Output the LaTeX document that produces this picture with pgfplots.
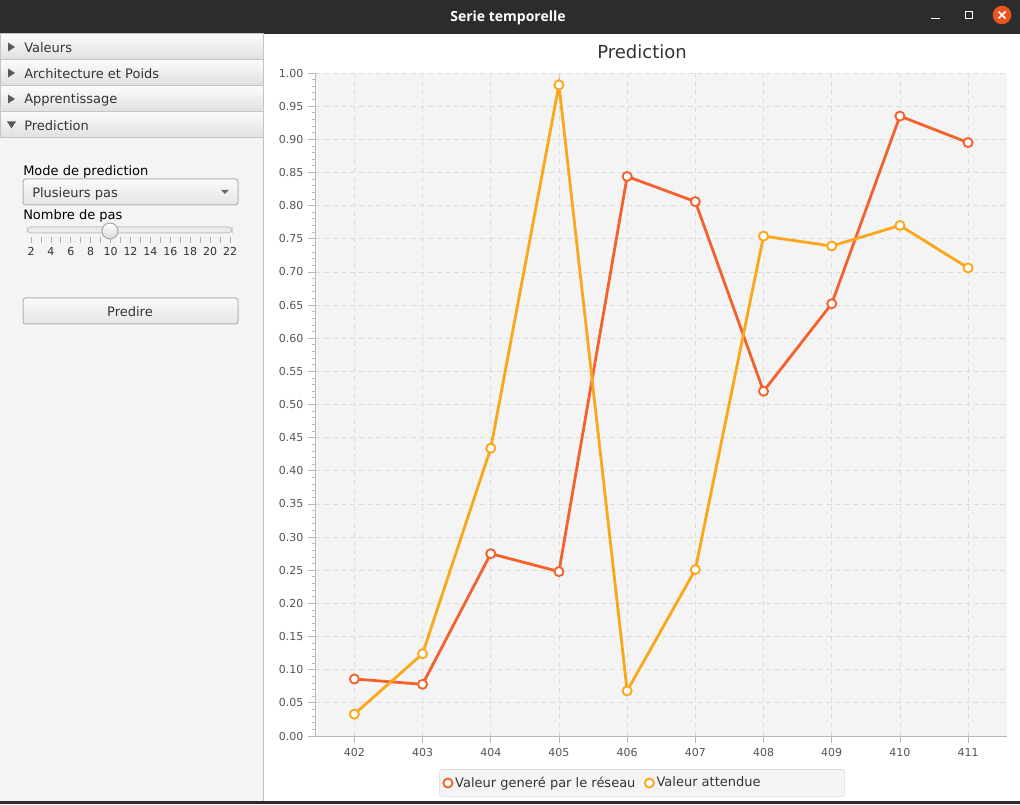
\documentclass[border=0pt]{standalone}
\usepackage{pgfplots}
\pgfplotsset{compat=1.18}
\usepackage{fontspec}
\setmainfont{DejaVu Sans}
\newfontfamily\wmfont{Open Sans}
\definecolor{serA}{HTML}{F3622D}
\definecolor{serB}{HTML}{FBA71B}
\definecolor{panelbg}{HTML}{F4F4F4}
\definecolor{plotbg}{HTML}{F4F4F4}
\definecolor{titlebar}{HTML}{2C2C2C}
\definecolor{gridgray}{HTML}{DCDCDC}
\definecolor{axisgray}{HTML}{B8B8B8}
\definecolor{labelgray}{HTML}{555555}
\definecolor{textdark}{HTML}{333333}
\definecolor{paneborder}{HTML}{C4C4C4}
\definecolor{closeorange}{HTML}{E95420}
\begin{document}
\begin{tikzpicture}[x=0.75pt,y=0.75pt]
\useasboundingbox (0,0) rectangle (1020,804);
% backgrounds
\fill[panelbg] (0,0) rectangle (1020,804);
\fill[white] (264,3) rectangle (1020,770);
\fill[titlebar] (0,770) rectangle (1020,804);
\fill[titlebar] (0,0) rectangle (1020,3);
\draw[paneborder, line width=0.75pt] (263.5,3) -- (263.5,770);
% window title
\node[text=white, font={\wmfont\bfseries\fontsize{10.5}{12}\selectfont}] at (508,786) {Serie temporelle};
\draw[white, line width=0.9pt] (931,785.5) -- (940,785.5);
\draw[white, line width=0.9pt] (965.5,785.5) rectangle (972.5,792.5);
\fill[closeorange] (1002,789) circle (9.3);
\draw[white, line width=1.1pt] (998.5,785.5) -- (1005.5,792.5) (998.5,792.5) -- (1005.5,785.5);
% accordion panes
\foreach \ya/\yb in {744/770,718/744,692/718,666/692}{
  \shade[top color=white!60!panelbg, bottom color=black!12] (0,\ya) rectangle (263,\yb);
  \draw[paneborder, line width=0.75pt] (0,\ya) rectangle (263,\yb);
}
\foreach \yc in {757,731,705}{
  \fill[black!65] (8,\yc-4.5) -- (15,\yc) -- (8,\yc+4.5) -- cycle;
}
\fill[black!65] (7,682.5) -- (16,682.5) -- (11.5,675.5) -- cycle;
\begin{scope}[every node/.style={anchor=west, text=textdark, font=\fontsize{9.75}{11}\selectfont, inner sep=0pt}]
\node at (24,756) {Valeurs};
\node at (24,730) {Architecture et Poids};
\node at (24,704) {Apprentissage};
\node at (24,678) {Prediction};
\node[text=black] at (23,632) {Mode de prediction};
\node[text=black] at (23,588) {Nombre de pas};
\end{scope}
% combo box
\shade[top color=white!50!panelbg, bottom color=black!10, rounded corners=2pt] (23,599) rectangle (238,625);
\draw[black!30, rounded corners=2pt, line width=0.75pt] (23,599) rectangle (238,625);
\node[anchor=west, inner sep=0pt, text=textdark, font=\fontsize{9.75}{11}\selectfont] at (32,610) {Plusieurs pas};
\fill[black!60] (221,614) -- (229,614) -- (225,610) -- cycle;
% slider
\fill[black!8, rounded corners=3pt] (27,571) rectangle (232,577);
\draw[paneborder, rounded corners=3pt, line width=0.75pt] (27,571) rectangle (232,577);
\foreach \k in {0,...,20}{
  \draw[black!30, line width=0.6pt] (31+\k*9.95,561) -- (31+\k*9.95,567);
}
\foreach \v in {2,4,...,22}{
  \node[text=textdark, font=\fontsize{8.25}{9}\selectfont] at (31+\v*9.95-2*9.95,553) {\v};
}
\shade[top color=white, bottom color=black!15] (110,573) circle (8);
\draw[black!35, line width=0.75pt] (110,573) circle (8);
% button
\shade[top color=white!50!panelbg, bottom color=black!10, rounded corners=2pt] (23,480) rectangle (238,506);
\draw[black!30, rounded corners=2pt, line width=0.75pt] (23,480) rectangle (238,506);
\node[text=textdark, font=\fontsize{9.75}{11}\selectfont] at (130,492) {Predire};
% chart title
\node[text=textdark, font=\fontsize{13.5}{15}\selectfont] at (642,752) {Prediction};
\begin{axis}[
  at={(236.625pt,51pt)}, anchor=south west,
  scale only axis, width=518.6pt, height=497.25pt,
  xmin=401.43, xmax=411.57, ymin=0, ymax=1,
  xtick={402,403,404,405,406,407,408,409,410,411},
  ytick distance=0.05, minor y tick num=4,
  grid=major,
  major grid style={dash pattern=on 3.5pt off 3pt, color=gridgray, line width=0.6pt},
  axis lines*=left,
  axis line style={color=axisgray, line width=0.75pt},
  tick align=outside, major tick length=5.5pt, minor tick length=3pt,
  tick style={color=axisgray, line width=0.6pt},
  /pgf/number format/assume math mode=true,
  every tick label/.append style={font=\fontsize{8.25}{9}\selectfont, text=labelgray},
  yticklabel style={/pgf/number format/.cd, fixed, fixed zerofill, precision=2},
  xticklabel style={/pgf/number format/.cd, 1000 sep={}},
  axis background/.style={fill=plotbg},
  legend columns=2,
  legend cell align=left,
  legend style={at={(0.4722,-0.0709)}, anchor=center, draw=black!15, fill=plotbg,
    rounded corners=2pt, font=\fontsize{9.75}{11}\selectfont, text=textdark,
    inner xsep=3pt, inner ysep=3.5pt,
    /tikz/every even column/.append style={column sep=5pt}},
  legend image code/.code={\draw[#1] plot[only marks] coordinates {(0.3em,0)};},
]
\addplot[color=serA, line width=2.1pt, mark=*, mark size=3.4pt,
  mark options={fill=white, draw=serA, line width=1.4pt}]
  coordinates {(402,0.086)(403,0.078)(404,0.275)(405,0.248)(406,0.844)(407,0.806)(408,0.520)(409,0.652)(410,0.935)(411,0.895)};
\addlegendentry{Valeur generé par le réseau}
\addplot[color=serB, line width=2.1pt, mark=*, mark size=3.4pt,
  mark options={fill=white, draw=serB, line width=1.4pt}]
  coordinates {(402,0.033)(403,0.124)(404,0.434)(405,0.982)(406,0.068)(407,0.251)(408,0.754)(409,0.739)(410,0.770)(411,0.706)};
\addlegendentry{Valeur attendue\hspace*{58pt}}
\end{axis}
\end{tikzpicture}
\end{document}
